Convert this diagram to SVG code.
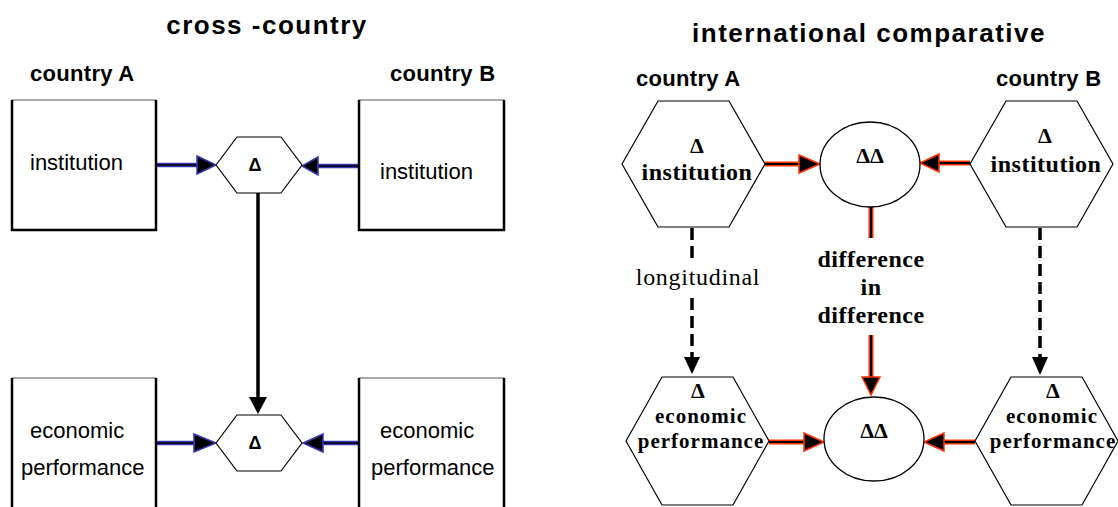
<svg xmlns="http://www.w3.org/2000/svg" width="1118" height="507" viewBox="0 0 1118 507">
<style>
.bg{fill:#fff}
.title{font-family:"Liberation Sans",Arial,sans-serif;font-weight:bold;font-size:26px;letter-spacing:1.5px;fill:#000}
.country{font-family:"Liberation Sans",Arial,sans-serif;font-weight:bold;font-size:22px;letter-spacing:0.3px;fill:#000}
.sans{font-family:"Liberation Sans",Arial,sans-serif;font-size:22px;fill:#000}
.delta{font-family:"Liberation Sans",Arial,sans-serif;font-weight:bold;font-size:18px;fill:#000}
.box{fill:#fff;stroke:#555;stroke-width:1}
.boxedge{fill:none;stroke:#000;stroke-width:2.5}
.hex{fill:#fff;stroke:#000;stroke-width:1.2}
.ser{font-family:"Liberation Serif","Times New Roman",serif;font-weight:bold;fill:#000;text-anchor:middle}
.s24{font-size:24px;letter-spacing:0.5px}
.s21{font-size:21px;letter-spacing:1px}
.sd{font-size:22px}
.long{font-family:"Liberation Serif","Times New Roman",serif;font-size:24px;letter-spacing:0.7px;fill:#000;text-anchor:middle}
.blueO{stroke:#3a36b4;stroke-width:4.5;fill:none}
.blueI{stroke:#000;stroke-width:1.6;fill:none}
.blueH{fill:#000;stroke:#3a36b4;stroke-width:1.5}
.redO{stroke:#ff3300;stroke-width:5;fill:none}
.redI{stroke:#000;stroke-width:2.2;fill:none}
.redH{fill:#000;stroke:#ff3300;stroke-width:1.5}
.blk{stroke:#000;stroke-width:3.5;fill:none}
.dash{stroke:#000;stroke-width:3.5;fill:none;stroke-dasharray:12 6}
</style>
<rect class="bg" x="0" y="0" width="1118" height="507"/>

<text class="title" x="267" y="34" text-anchor="middle">cross -country</text>
<text class="country" x="30" y="81">country A</text>
<text class="country" x="390" y="81">country B</text>
<text class="title" x="869" y="42" text-anchor="middle">international comparative</text>
<text class="country" x="636" y="86">country A</text>
<text class="country" x="996" y="86">country B</text>

<g id="connectors">
  <path class="blueO" d="M156,165 H198"/><path class="blueI" d="M156,165 H198"/>
  <polygon class="blueH" points="197,156 216,165 197,174"/>
  <path class="blueO" d="M359,166 H317"/><path class="blueI" d="M359,166 H317"/>
  <polygon class="blueH" points="318,157 302,166 318,175"/>
  <path class="blk" d="M258,193 V398"/>
  <polygon fill="#000" points="249,397 258,414 267,397"/>
  <path class="blueO" d="M157,443 H195"/><path class="blueI" d="M157,443 H195"/>
  <polygon class="blueH" points="194,434 216,443 194,452"/>
  <path class="blueO" d="M359,443 H322"/><path class="blueI" d="M359,443 H322"/>
  <polygon class="blueH" points="323,434 303,443 323,452"/>
  <path class="redO" d="M765,164 H800"/><path class="redI" d="M765,164 H800"/>
  <polygon class="redH" points="799,155 820,164 799,173"/>
  <path class="redO" d="M970,163 H938"/><path class="redI" d="M970,163 H938"/>
  <polygon class="redH" points="939,154 920,163 939,172"/>
  <path class="redO" d="M871,207 V238"/><path class="redI" d="M871,207 V238"/>
  <path class="redO" d="M871,335 V378"/><path class="redI" d="M871,335 V378"/>
  <polygon class="redH" points="862,377 871,395 880,377"/>
  <path class="redO" d="M769,442 H805"/><path class="redI" d="M769,442 H805"/>
  <polygon class="redH" points="804,433 824,442 804,451"/>
  <path class="redO" d="M975,442 H943"/><path class="redI" d="M975,442 H943"/>
  <polygon class="redH" points="944,433 924,442 944,451"/>
  <path class="dash" d="M692,228 V258"/>
  <path class="dash" d="M692,298 V357"/>
  <polygon fill="#000" points="684,357 692,374 700,357"/>
  <path class="dash" d="M1040,228 V357"/>
  <polygon fill="#000" points="1032,357 1040,375 1048,357"/>
  <text class="long" x="698" y="285">longitudinal</text>
  <text class="ser s24" x="871" y="267">difference</text>
  <text class="ser s24" x="871" y="295">in</text>
  <text class="ser s24" x="871" y="323">difference</text>
</g>

<g id="boxA-inst">
  <rect class="box" x="12" y="100" width="144" height="130"/>
  <path class="boxedge" d="M12,100 V230 H156 V100"/>
  <text class="sans" x="30" y="170">institution</text>
</g>
<g id="boxB-inst">
  <rect class="box" x="359" y="100" width="145" height="130"/>
  <path class="boxedge" d="M359,100 V230 H504 V100"/>
  <text class="sans" x="380" y="179">institution</text>
</g>
<g id="hex-inst-diff">
  <polygon class="hex" points="216,165 237,137 281,137 302,165 281,193 237,193"/>
  <text class="delta" x="255" y="171" text-anchor="middle">Δ</text>
</g>
<g id="boxA-econ">
  <rect class="box" x="12" y="378" width="144" height="140"/>
  <path class="boxedge" d="M12,378 V518 M156,518 V378"/>
  <text class="sans" x="30" y="438">economic</text>
  <text class="sans" x="21" y="475">performance</text>
</g>
<g id="boxB-econ">
  <rect class="box" x="359" y="378" width="145" height="140"/>
  <path class="boxedge" d="M359,378 V518 M504,518 V378"/>
  <text class="sans" x="380" y="438">economic</text>
  <text class="sans" x="371" y="475">performance</text>
</g>
<g id="hex-econ-diff">
  <polygon class="hex" points="216,443 237,415 281,415 302,443 281,471 237,471"/>
  <text class="delta" x="255" y="449" text-anchor="middle">Δ</text>
</g>

<g id="hexA-inst">
  <polygon class="hex" points="622,164 658,101 729,101 765,164 729,227 658,227"/>
  <text class="ser sd" x="697" y="153">Δ</text>
  <text class="ser s24" x="697" y="180">institution</text>
</g>
<g id="hexB-inst">
  <polygon class="hex" points="970,164 1006,101 1077,101 1113,164 1077,227 1006,227"/>
  <text class="ser sd" x="1045" y="143">Δ</text>
  <text class="ser s24" x="1046" y="172">institution</text>
</g>
<g id="ellipse-inst">
  <ellipse cx="870" cy="164.5" rx="50" ry="42.5" fill="#fff" stroke="#000" stroke-width="1.3"/>
  <text class="ser sd" x="870" y="163">ΔΔ</text>
</g>
<g id="hexA-econ">
  <polygon class="hex" points="626,441 662,377 733,377 769,441 733,505 662,505"/>
  <text class="ser sd" x="698" y="398">Δ</text>
  <text class="ser s21" x="701" y="423">economic</text>
  <text class="ser s21" x="701" y="448">performance</text>
</g>
<g id="hexB-econ">
  <polygon class="hex" points="975,441 1011,377 1082,377 1118,441 1082,505 1011,505"/>
  <text class="ser sd" x="1053" y="398">Δ</text>
  <text class="ser s21" x="1052" y="423">economic</text>
  <text class="ser s21" x="1053" y="448">performance</text>
</g>
<g id="ellipse-econ">
  <ellipse cx="874" cy="439" rx="50" ry="42" fill="#fff" stroke="#000" stroke-width="1.3"/>
  <text class="ser sd" x="874" y="438">ΔΔ</text>
</g>
</svg>
